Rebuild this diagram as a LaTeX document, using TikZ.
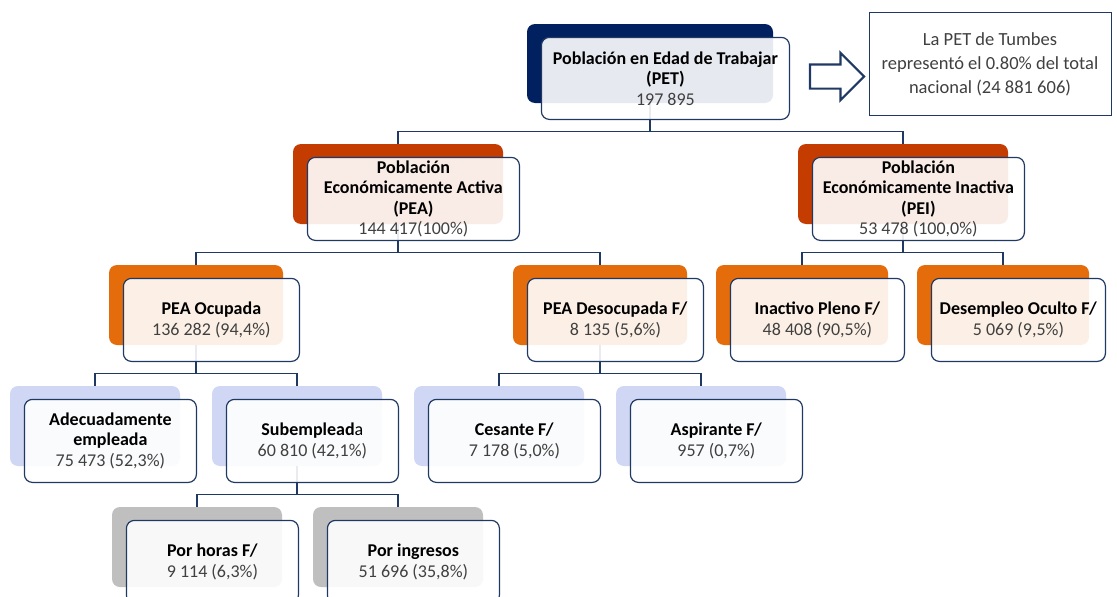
\documentclass[tikz,border=0pt]{standalone}
\usepackage{fontspec}
\setmainfont{Carlito}
\usetikzlibrary{positioning,shapes.arrows}
\definecolor{azul}{HTML}{203864}
\definecolor{marino}{HTML}{002060}
\definecolor{rojo}{HTML}{C43C00}
\definecolor{naranja}{HTML}{E46C0A}
\definecolor{celeste}{HTML}{CFD7F4}
\definecolor{plomo}{HTML}{BFBFBF}
\definecolor{numgris}{HTML}{404040}
\tikzset{fondo/.style={fill=#1, draw=none, rounded corners=8pt, inner sep=0pt},
  caja/.style={draw=azul, line width=1.2pt, fill=white, fill opacity=0.9,
    text opacity=1, rounded corners=8pt, align=center, inner sep=2pt,
    anchor=north west, font=\fontsize{18}{20.5}\selectfont},
  rama/.style={draw=azul, line width=1.1pt,
    to path={(\tikztostart.south) -- ++(0,28.5) -| (\tikztotarget.north)}},
  nota/.style={draw=azul, line width=0.8pt, minimum width=242pt,
    minimum height=103pt, align=center, text=numgris,
    font=\fontsize{18.5}{24}\selectfont},
  flecha/.style={single arrow, draw=azul, line width=2.2pt, fill=white,
    inner xsep=0pt, inner ysep=11pt, minimum height=54pt,
    single arrow head extend=11.5pt}}
\newcommand{\cifra}[1]{{\color{numgris}#1}}

\begin{document}
\begin{tikzpicture}[x=1pt,y=-1pt]
\clip (0,0) rectangle (1117,597);
\fill[white] (0,0) rectangle (1117,597);
% bloques de color (atras)
\node[fondo=marino, minimum width=246pt, minimum height=79pt] (pet) at (650,63.5) {};
\node[fondo=rojo, minimum width=210pt, minimum height=80pt] (pea) at (398,184) {};
\node[fondo=rojo, minimum width=210pt, minimum height=80pt] (pei) at (903,184) {};
\node[fondo=naranja, minimum width=174pt, minimum height=80pt] (ocu) at (196,305) {};
\node[fondo=naranja, minimum width=174pt, minimum height=80pt] (deso) at (600,305) {};
\node[fondo=naranja, minimum width=172pt, minimum height=80pt] (inac) at (802,305) {};
\node[fondo=naranja, minimum width=172pt, minimum height=80pt] (ocul) at (1003,305) {};
\node[fondo=celeste, minimum width=170pt, minimum height=80pt] (adec) at (95,426) {};
\node[fondo=celeste, minimum width=170pt, minimum height=80pt] (sube) at (297,426) {};
\node[fondo=celeste, minimum width=170pt, minimum height=80pt] (ces) at (499,426) {};
\node[fondo=celeste, minimum width=170pt, minimum height=80pt] (asp) at (701,426) {};
\node[fondo=plomo, minimum width=170pt, minimum height=80pt] (hor) at (197,547) {};
\node[fondo=plomo, minimum width=170pt, minimum height=80pt] (ing) at (398,547) {};
% ramas
\path (pet) edge[rama] (pea) edge[rama] (pei);
\path (pea) edge[rama] (ocu) edge[rama] (deso);
\path (pei) edge[rama] (inac) edge[rama] (ocul);
\path (ocu) edge[rama] (adec) edge[rama] (sube);
\path (deso) edge[rama] (ces) edge[rama] (asp);
\path (sube) edge[rama] (hor) edge[rama] (ing);
% cajas con texto
\node[caja, minimum width=248pt, minimum height=82pt] (pet-c) at ([shift={(14,13)}]pet.north west)
  {\textbf{Población en Edad de Trabajar}\\\textbf{(PET)}\\\cifra{197 895}};
\node[caja, minimum width=212pt, minimum height=83pt] (pea-c) at ([shift={(14,13)}]pea.north west)
  {\textbf{Población}\\\textbf{Económicamente Activa}\\\textbf{(PEA)}\\\cifra{144 417(100\%)}};
\node[caja, minimum width=212pt, minimum height=83pt] (pei-c) at ([shift={(14,13)}]pei.north west)
  {\textbf{Población}\\\textbf{Económicamente Inactiva}\\\textbf{(PEI)}\\\cifra{53 478 (100,0\%)}};
\node[caja, minimum width=176pt, minimum height=83pt] (ocu-c) at ([shift={(14,13)}]ocu.north west)
  {\textbf{PEA Ocupada}\\\cifra{136 282 (94,4\%)}};
\node[caja, minimum width=176pt, minimum height=83pt] (deso-c) at ([shift={(14,13)}]deso.north west)
  {\textbf{PEA Desocupada F/}\\\cifra{8 135 (5,6\%)}};
\node[caja, minimum width=174pt, minimum height=83pt] (inac-c) at ([shift={(14,13)}]inac.north west)
  {\textbf{Inactivo Pleno F/}\\\cifra{48 408 (90,5\%)}};
\node[caja, minimum width=174pt, minimum height=83pt] (ocul-c) at ([shift={(14,13)}]ocul.north west)
  {\textbf{Desempleo Oculto F/}\\\cifra{5 069 (9,5\%)}};
\node[caja, minimum width=172pt, minimum height=83pt] (adec-c) at ([shift={(14,13)}]adec.north west)
  {\textbf{Adecuadamente}\\\textbf{empleada}\\\cifra{75 473 (52,3\%)}};
\node[caja, minimum width=172pt, minimum height=83pt] (sube-c) at ([shift={(14,13)}]sube.north west)
  {\textbf{Subemplead}a\\\cifra{60 810 (42,1\%)}};
\node[caja, minimum width=172pt, minimum height=83pt] (ces-c) at ([shift={(14,13)}]ces.north west)
  {\textbf{Cesante F/}\\\cifra{7 178 (5,0\%)}};
\node[caja, minimum width=172pt, minimum height=83pt] (asp-c) at ([shift={(14,13)}]asp.north west)
  {\textbf{Aspirante F/}\\\cifra{957 (0,7\%)}};
\node[caja, minimum width=172pt, minimum height=83pt] (hor-c) at ([shift={(14,13)}]hor.north west)
  {\textbf{Por horas F/}\\\cifra{9 114 (6,3\%)}};
\node[caja, minimum width=172pt, minimum height=83pt] (ing-c) at ([shift={(14,13)}]ing.north west)
  {\textbf{Por ingresos}\\\cifra{51 696 (35,8\%)}};
% nota de la derecha
\node[flecha] (fl) at (831,76.5) {};
\node[nota] (nota) at (990,64)
  {La PET de Tumbes\\representó el 0.80\% del total\\nacional (24 881 606)};
\end{tikzpicture}
\end{document}
